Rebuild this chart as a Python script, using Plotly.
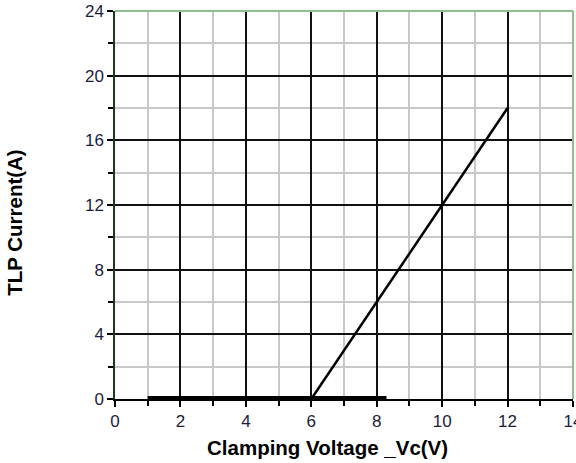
import plotly.graph_objects as go

# Data
leak_v = [1.0, 8.3]
leak_i = [0.08, 0.08]
clamp_v = [6.0, 12.0]
clamp_i = [0.0, 18.0]

x_ticks = [0, 2, 4, 6, 8, 10, 12, 14]
y_ticks = [0, 4, 8, 12, 16, 20, 24]

x_title = "Clamping Voltage _Vc(V)"
y_title = "TLP Current(A)"

fig = go.Figure()
fig.add_trace(go.Scatter(x=leak_v, y=leak_i, mode="lines",
                         line=dict(color="#000000", width=3.5), showlegend=False))
fig.add_trace(go.Scatter(x=clamp_v, y=clamp_i, mode="lines",
                         line=dict(color="#000000", width=2.5), showlegend=False))

tick_font = dict(family="Liberation Sans, Arial, sans-serif", size=17, color="#1c1c3c")
title_font = dict(family="Liberation Sans, Arial, sans-serif", size=20.5, color="#000000")

fig.update_xaxes(
    range=[0, 14], tickvals=x_ticks, ticktext=[str(v) for v in x_ticks],
    showgrid=True, gridcolor="#111111", gridwidth=1.5,
    minor=dict(dtick=1, showgrid=True, gridcolor="#c8c8c8", gridwidth=1.5,
               ticks="outside", ticklen=5, tickcolor="#000000"),
    ticks="outside", ticklen=6, tickcolor="#000000", tickwidth=1.5,
    showline=True, linecolor="#000000", linewidth=1.5,
    zeroline=False, tickfont=tick_font, ticklabeloverflow="allow",
)
fig.update_yaxes(
    range=[0, 24], tickvals=y_ticks, ticktext=[str(v) for v in y_ticks],
    showgrid=True, gridcolor="#111111", gridwidth=1.5,
    minor=dict(dtick=2, showgrid=True, gridcolor="#c8c8c8", gridwidth=1.5,
               ticks="outside", ticklen=5, tickcolor="#000000"),
    ticks="outside", ticklen=6, tickcolor="#000000", tickwidth=1.5,
    showline=True, linecolor="#1e3a1e", linewidth=1.5,
    zeroline=False, tickfont=tick_font, ticklabeloverflow="allow",
)

# axis titles as annotations for exact placement
fig.add_annotation(text="<b>" + x_title + "</b>", xref="paper", yref="paper",
                   x=0.4645, y=0, yshift=-48, xanchor="center", yanchor="middle",
                   showarrow=False, font=title_font)
fig.add_annotation(text="<b>" + y_title + "</b>", xref="paper", yref="paper",
                   x=0, y=0.454, xshift=-100, xanchor="center", yanchor="middle",
                   textangle=-90, showarrow=False, font=title_font)

# green frame on top and right
fig.add_shape(type="line", xref="paper", yref="paper", x0=0, x1=1, y0=1, y1=1,
              line=dict(color="#8cbf8c", width=2))
fig.add_shape(type="line", xref="paper", yref="paper", x0=1, x1=1, y0=0, y1=1,
              line=dict(color="#8cbf8c", width=2))

fig.update_layout(
    width=576, height=463,
    margin=dict(l=115, r=3, t=11, b=64, autoexpand=False),
    plot_bgcolor="#ffffff", paper_bgcolor="#ffffff",
)

fig.write_html("out.html", config={"displayModeBar": False},
               post_script="document.body.style.margin='0';")
